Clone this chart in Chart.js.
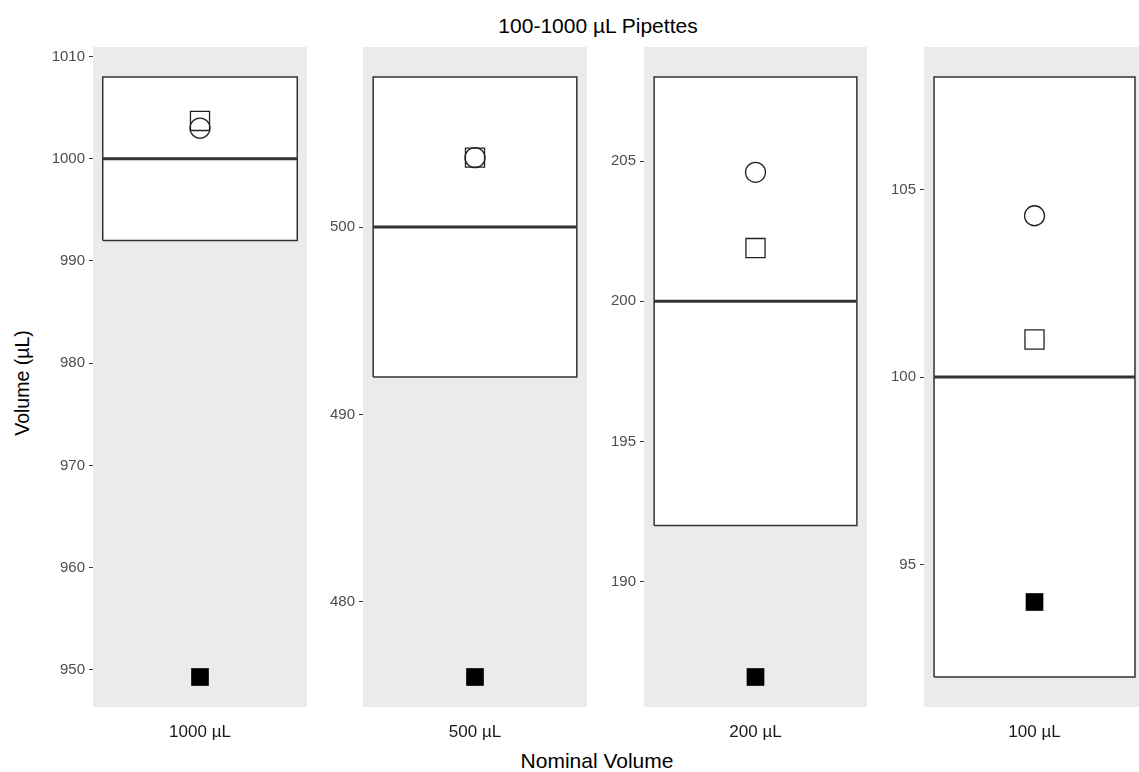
<!DOCTYPE html>
<html>
<head>
<meta charset="utf-8">
<title>100-1000 µL Pipettes</title>
<script src="https://cdn.jsdelivr.net/npm/chart.js@4.4.0/dist/chart.umd.min.js"></script>
<style>
  body { margin: 0; width: 1139px; height: 772px; overflow: hidden; position: relative; background: #fff;
         font-family: "Liberation Sans", Arial, sans-serif; }
  canvas { position: absolute; top: 34px; }
  .txt { position: absolute; white-space: nowrap; color: #000; }
  #title { top: 14px; left: 598px; transform: translateX(-50%); font-size: 21px; }
  #xtitle { top: 749px; left: 597px; transform: translateX(-50%); font-size: 21px; }
  #ytitle { top: 383px; left: 22px; transform: translate(-50%, -50%) rotate(-90deg); font-size: 19.5px; }
</style>
</head>
<body>
<div class="txt" id="title">100-1000 µL Pipettes</div>
<div class="txt" id="xtitle">Nominal Volume</div>
<div class="txt" id="ytitle">Volume (µL)</div>
<canvas id="p0"></canvas>
<canvas id="p1"></canvas>
<canvas id="p2"></canvas>
<canvas id="p3"></canvas>
<script>
// datos (un panel por pipeta)
const categories = ['1000 µL', '500 µL', '200 µL', '100 µL'];
const nominal    = [1000, 500, 200, 100];
const tolLow     = [992, 492, 192, 92];
const tolHigh    = [1008, 508, 208, 108];
const circleVals = [1003.0, 503.7, 204.6, 104.3];
const squareVals = [1003.7, 503.7, 201.9, 101.0];
const filledVals = [949.3, 476.0, 186.6, 94.0];
const yTicks = [
  [950, 960, 970, 980, 990, 1000, 1010],
  [480, 490, 500],
  [190, 195, 200, 205],
  [95, 100, 105]
];

// layout de los paneles (px)
const panelLeft  = [93, 363, 644, 924];
const panelWidth = [214, 224, 223, 215];
const xMaxes     = [1.605, 1.605, 1.605, 1.572];
const axisW = 50;
const boxMin = 0.45, boxMax = 1.55;

Chart.defaults.font.family = '"Liberation Sans", Arial, sans-serif';

// fondo gris del panel
const panelBg = {
  id: 'panelBg',
  beforeDraw(chart) {
    const a = chart.chartArea, c = chart.ctx;
    c.save();
    c.fillStyle = '#ebebeb';
    c.fillRect(a.left, a.top, a.right - a.left, a.bottom - a.top);
    c.restore();
  }
};

categories.forEach(function(cat, i) {
  const cv = document.getElementById('p' + i);
  cv.width = axisW + panelWidth[i];
  cv.height = 726;
  cv.style.left = (panelLeft[i] - axisW) + 'px';

  const all = [tolLow[i], tolHigh[i], nominal[i], circleVals[i], squareVals[i], filledVals[i]];
  const lo = Math.min.apply(null, all), hi = Math.max.apply(null, all);
  const pad = (hi - lo) * 0.05;

  new Chart(cv.getContext('2d'), {
    type: 'scatter',
    data: {
      datasets: [
        {
          // caja de tolerancia
          data: [{x: boxMin, y: tolLow[i]}, {x: boxMin, y: tolHigh[i]}, {x: boxMax, y: tolHigh[i]},
                 {x: boxMax, y: tolLow[i]}, {x: boxMin, y: tolLow[i]}],
          showLine: true, fill: 'shape', backgroundColor: '#ffffff',
          borderColor: '#333333', borderWidth: 1.5, pointRadius: 0, tension: 0, order: 5
        },
        {
          // volumen nominal
          data: [{x: boxMin, y: nominal[i]}, {x: boxMax, y: nominal[i]}],
          showLine: true, fill: false, borderColor: '#333333', borderWidth: 3,
          pointRadius: 0, order: 4
        },
        {
          data: [{x: 1, y: squareVals[i]}],
          pointStyle: 'rect', pointRadius: 13.5, pointBorderWidth: 1.3,
          pointBorderColor: '#222', pointBackgroundColor: 'rgba(0,0,0,0)', order: 3
        },
        {
          data: [{x: 1, y: circleVals[i]}],
          pointStyle: 'circle', pointRadius: 10, pointBorderWidth: 1.3,
          pointBorderColor: '#222', pointBackgroundColor: 'rgba(0,0,0,0)', order: 2
        },
        {
          data: [{x: 1, y: filledVals[i]}],
          pointStyle: 'rect', pointRadius: 12.5, pointBorderWidth: 0,
          pointBorderColor: '#000', pointBackgroundColor: '#000', order: 1
        }
      ]
    },
    options: {
      responsive: false,
      animation: false,
      devicePixelRatio: 1,
      layout: { autoPadding: false, padding: { top: 3, left: 0, right: 0, bottom: 0 } },
      plugins: { legend: { display: false }, tooltip: { enabled: false } },
      scales: {
        x: {
          type: 'linear', min: 0.395, max: xMaxes[i],
          afterBuildTicks: function(s) { s.ticks = [{ value: 1 }]; },
          afterFit: function(s) { s.height = 53; },
          grid: { display: false, drawTicks: false },
          border: { display: false },
          ticks: { padding: 15, color: '#1a1a1a', font: { size: 17 }, callback: function() { return cat; } }
        },
        y: {
          type: 'linear', min: lo - pad, max: hi + pad,
          afterBuildTicks: function(s) { s.ticks = yTicks[i].map(function(v) { return { value: v }; }); },
          afterFit: function(s) { s.width = axisW; },
          grid: { display: true, drawOnChartArea: false, drawTicks: true, tickLength: 4, tickColor: '#333', tickWidth: 1 },
          border: { display: false },
          ticks: { padding: 4, color: '#4d4d4d', font: { size: 15 }, callback: function(v) { return String(v); } }
        }
      }
    },
    plugins: [panelBg]
  });
});
</script>
</body>
</html>
